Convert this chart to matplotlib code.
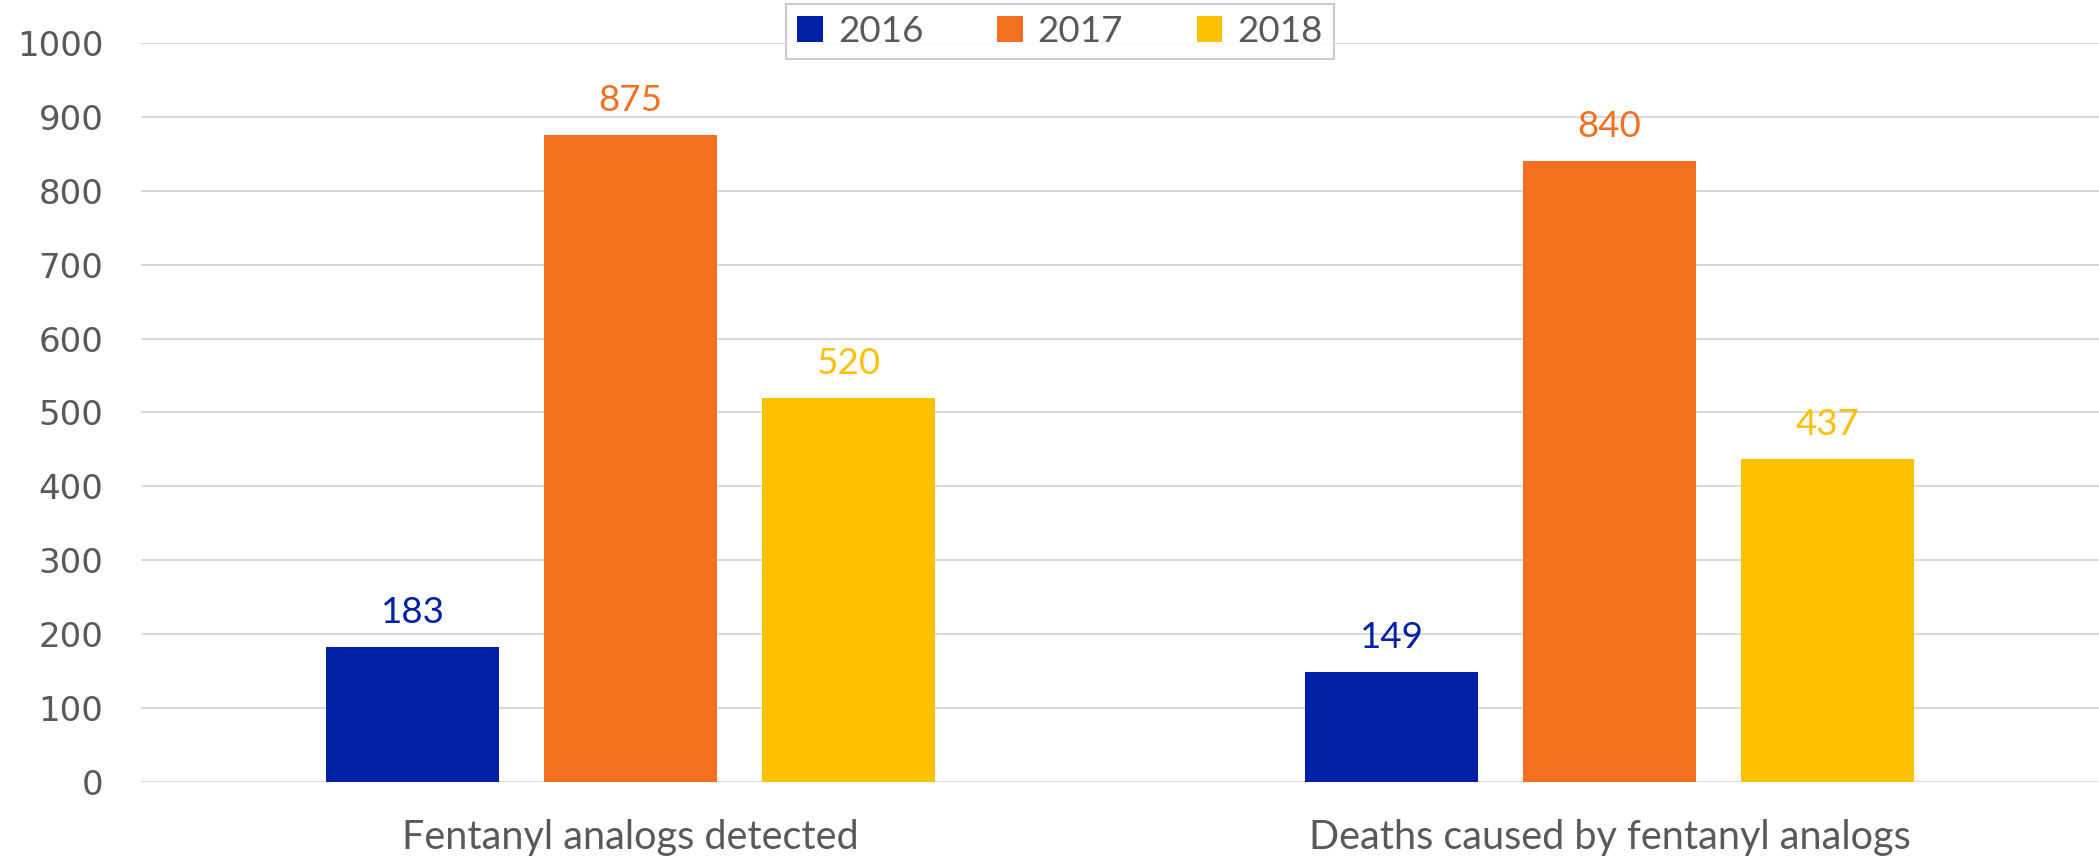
import matplotlib
matplotlib.use("Agg")
from matplotlib import pyplot as plt
import numpy as np

categories = ["Fentanyl analogs detected", "Deaths caused by fentanyl analogs"]
years = ["2016", "2017", "2018"]
values_2016 = [183, 149]
values_2017 = [875, 840]
values_2018 = [520, 437]
colors = ["#0021A5", "#F37021", "#FFC000"]

grey = "#595959"

fig = plt.figure(figsize=(20.99, 8.58), dpi=100)
ax = fig.add_axes([0.0672, 0.0886, 0.9328, 0.8613])

x = np.arange(len(categories))
w = 0.1764
step = 0.2228
series = [values_2016, values_2017, values_2018]
for i, vals in enumerate(series):
  pos = x + (i - 1) * step
  ax.bar(pos, vals, width=w, color=colors[i], label=years[i], zorder=3)
  for p, v in zip(pos, vals):
    ax.annotate(str(v), (p, v), xytext=(0, 13), textcoords="offset points",
                ha="center", va="bottom", color=colors[i], fontsize=26.5, family="Lato")

ax.set_xlim(-0.5, 1.5)
ax.set_ylim(0, 1000)
ax.set_yticks(range(0, 1001, 100))
ax.grid(axis="y", color="#D9D9D9", linewidth=1.5, zorder=0)
for s in ax.spines.values():
  s.set_visible(False)
ax.tick_params(axis="both", length=0, colors=grey)
ax.tick_params(axis="y", labelsize=24.5, pad=27)
ax.tick_params(axis="x", labelsize=28.5, pad=27)
ax.set_xticks(x)
ax.set_xticklabels(categories, family="Lato", color=grey)
for t in ax.get_yticklabels():
  t.set_color(grey)
  t.set_family("DejaVu Sans")

leg = fig.legend(loc="upper center", bbox_to_anchor=(0.505, 1.0), ncol=3, frameon=True,
                 prop={"family": "Lato", "size": 26.5}, handlelength=0.7, handleheight=0.7,
                 columnspacing=2.0, handletextpad=0.4, borderpad=0.3, fancybox=False,
                 borderaxespad=0.1)
leg.get_frame().set_edgecolor("#BFBFBF")
leg.get_frame().set_linewidth(1.5)
for t in leg.get_texts():
  t.set_color(grey)

plt.savefig("out.png", dpi=100)
